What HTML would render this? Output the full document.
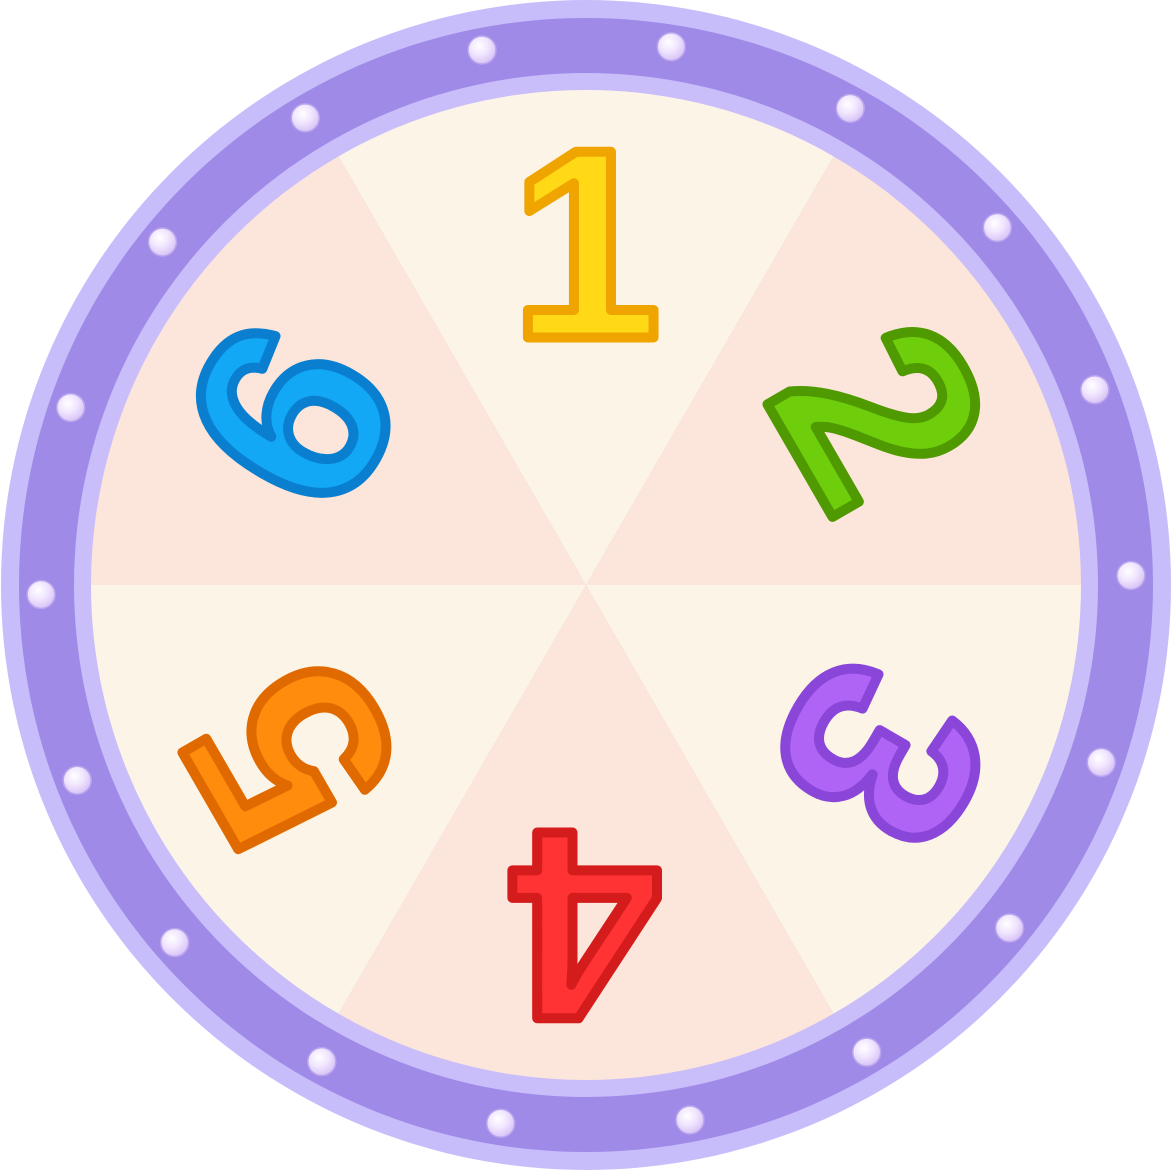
<!DOCTYPE html>
<html><head><meta charset="utf-8"><style>
html,body{margin:0;padding:0;background:#fff;}
svg{display:block}
</style></head><body>
<svg id="wheel" width="1173" height="1170" viewBox="0 0 1173 1170" xmlns="http://www.w3.org/2000/svg">
<defs>
<radialGradient id="pearl" cx="40%" cy="35%" r="65%">
<stop offset="0" stop-color="#ffffff"/><stop offset="0.5" stop-color="#f1e6ff"/><stop offset="1" stop-color="#d8c4f6"/>
</radialGradient>
</defs>
<circle cx="586" cy="585" r="585" fill="#c8bdfb"/>
<circle cx="586" cy="585" r="567" fill="#a08ae8"/>
<circle cx="586" cy="585" r="512" fill="#c9bdfa"/>
<g id="segs"></g>
<g id="dots"></g>
<g id="labels"></g>
</svg>
<script>
const segmentAngles=[-120,-60,0,60,120,180];
const segmentColors=["#fdf4e8","#fce5da","#fdf4e8","#fce5da","#fdf4e8","#fce5da"];
const labels=["1","2","3","4","5","6"];
const labelColors=["#ffd816","#6fce0c","#b064f5","#ff3333","#ff8c0c","#12a8f5"];
const labelStrokes=["#f0a400","#4f9a00","#8a46d8","#d41c1c","#e06a00","#0a7fd0"];
const dotAngles=[9,29,49,69,89,109,129,149,169,189,209,229,249,269,289,309,329,349];
const cx=586,cy=585,R=495,NS="http://www.w3.org/2000/svg";
function pt(a,r){const t=a*Math.PI/180;return [cx+r*Math.cos(t),cy+r*Math.sin(t)];}
const segs=document.getElementById('segs');
segmentAngles.forEach((a,i)=>{
  const p1=pt(a,R),p2=pt(a+60,R);
  const p=document.createElementNS(NS,'path');
  p.setAttribute('d',`M${cx},${cy} L${p1[0]},${p1[1]} A${R},${R} 0 0 1 ${p2[0]},${p2[1]} Z`);
  p.setAttribute('fill',segmentColors[i]);
  
  
  segs.appendChild(p);
});
const dots=document.getElementById('dots');
dotAngles.forEach((a)=>{
  const q=pt(a-90,545);
  const c=document.createElementNS(NS,'circle');
  c.setAttribute('cx',q[0]);c.setAttribute('cy',q[1]);c.setAttribute('r',14);
  c.setAttribute('fill','url(#pearl)');c.setAttribute('stroke','#b9a3ee');c.setAttribute('stroke-width','1.5');
  
  
  dots.appendChild(c);
});
const lg=document.getElementById('labels');
labels.forEach((t,i)=>{
  const ang=-90+60*i;
  const q=pt(ang,340);
  const tx=document.createElementNS(NS,'text');
  tx.textContent=t;
  tx.setAttribute('x',q[0]);tx.setAttribute('y',q[1]);
  tx.setAttribute('text-anchor','middle');tx.setAttribute('dominant-baseline','central');
  tx.setAttribute('font-family','"Liberation Sans", sans-serif');
  tx.setAttribute('font-weight','bold');tx.setAttribute('font-size','270');
  tx.setAttribute('fill',labelColors[i]);tx.setAttribute('stroke',labelStrokes[i]);
  tx.setAttribute('stroke-width','10');tx.setAttribute('stroke-linejoin','round');tx.setAttribute('stroke-linecap','round');
  tx.setAttribute('transform',`rotate(${60*i} ${q[0]} ${q[1]})`);
  
  
  lg.appendChild(tx);
});
</script>
</body></html>
